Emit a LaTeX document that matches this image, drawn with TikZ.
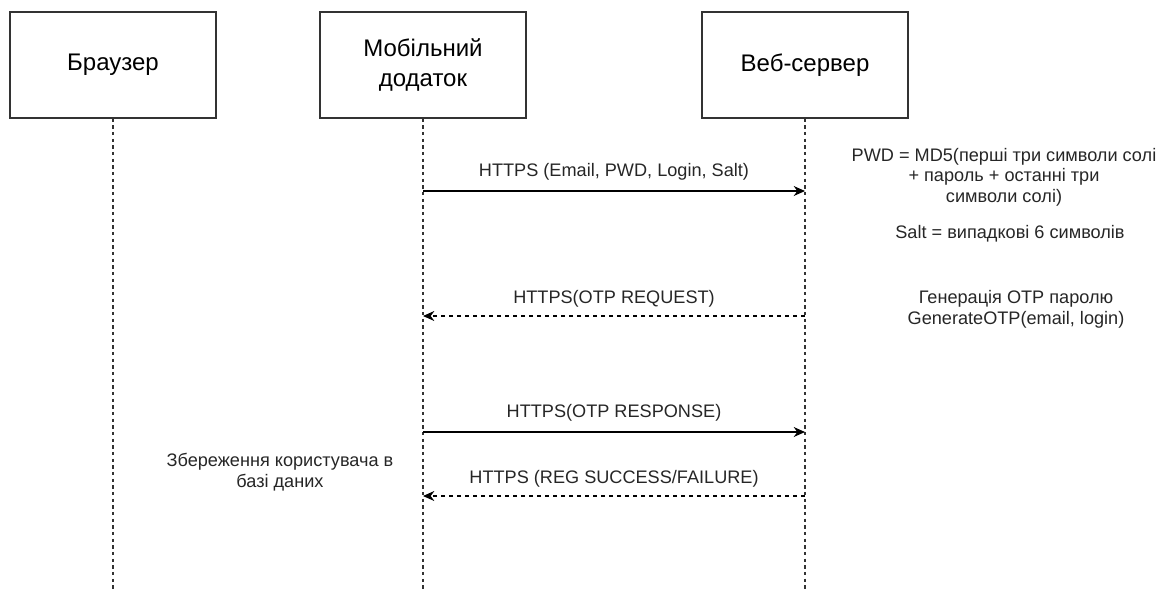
\documentclass[tikz,border=0pt]{standalone}
\usepackage{fontspec}
\setmainfont{Liberation Sans}
\usetikzlibrary{arrows.meta}

\tikzset{
  actor/.style={draw=black!80, line width=0.9pt, minimum width=154.5pt, minimum height=79.5pt, align=center, font=\fontsize{18}{23}\selectfont},
  life/.style={black!80, line width=0.8pt, dash pattern=on 2.5pt off 2.5pt},
  msg/.style={black, line width=0.9pt, -{Stealth[length=8.5pt,width=7.5pt]}},
  reply/.style={msg, dash pattern=on 3pt off 3pt},
  lbl/.style={font=\fontsize{13.6}{15.5}\selectfont, text=black!85, align=center}
}

\begin{document}
\begin{tikzpicture}[x=0.75pt,y=-0.75pt]
    \useasboundingbox (0,0) rectangle (1159,593);

    % actors
    \node[actor] (browser) at (113,65) {Браузер};
    \node[actor] (app) at (423,65) {Мобільний\\додаток};
    \node[actor] (server) at (805,65) {Веб-сервер};

    % lifelines
    \coordinate (browserEnd) at (113,590);
    \coordinate (appEnd) at (423,590);
    \coordinate (serverEnd) at (805,590);
    \draw[life] (browser.south) -- (browserEnd);
    \draw[life] (app.south) -- (appEnd);
    \draw[life] (server.south) -- (serverEnd);

    % message points
    \coordinate (a1) at (423,191); \coordinate (s1) at (805,191);
    \coordinate (a2) at (423,316); \coordinate (s2) at (805,316);
    \coordinate (a3) at (423,432); \coordinate (s3) at (805,432);
    \coordinate (a4) at (423,496); \coordinate (s4) at (805,496);

    \draw[msg] (a1) -- node[lbl, above=4pt] {HTTPS (Email, PWD, Login, Salt)} (s1);
    \draw[reply] (s2) -- node[lbl, above=3pt] {HTTPS(OTP REQUEST)} (a2);
    \draw[msg] (a3) -- node[lbl, above=4pt] {HTTPS(OTP RESPONSE)} (s3);
    \draw[reply] (s4) -- node[lbl, above=3pt] {HTTPS (REG SUCCESS/FAILURE)} (a4);

    % notes
    \node[lbl] (pwdNote) at (1004,177) {PWD = MD5(перші три символи солі\\+ пароль + останні три\\символи солі)};
    \node[lbl] (saltNote) at (1010,234) {Salt = випадкові 6 символів};
    \node[lbl] (otpNote) at (1016,309) {Генерація OTP паролю\\GenerateOTP(email, login)};
    \node[lbl] (saveNote) at (280,472) {Збереження користувача в\\базі даних};
\end{tikzpicture}
\end{document}
